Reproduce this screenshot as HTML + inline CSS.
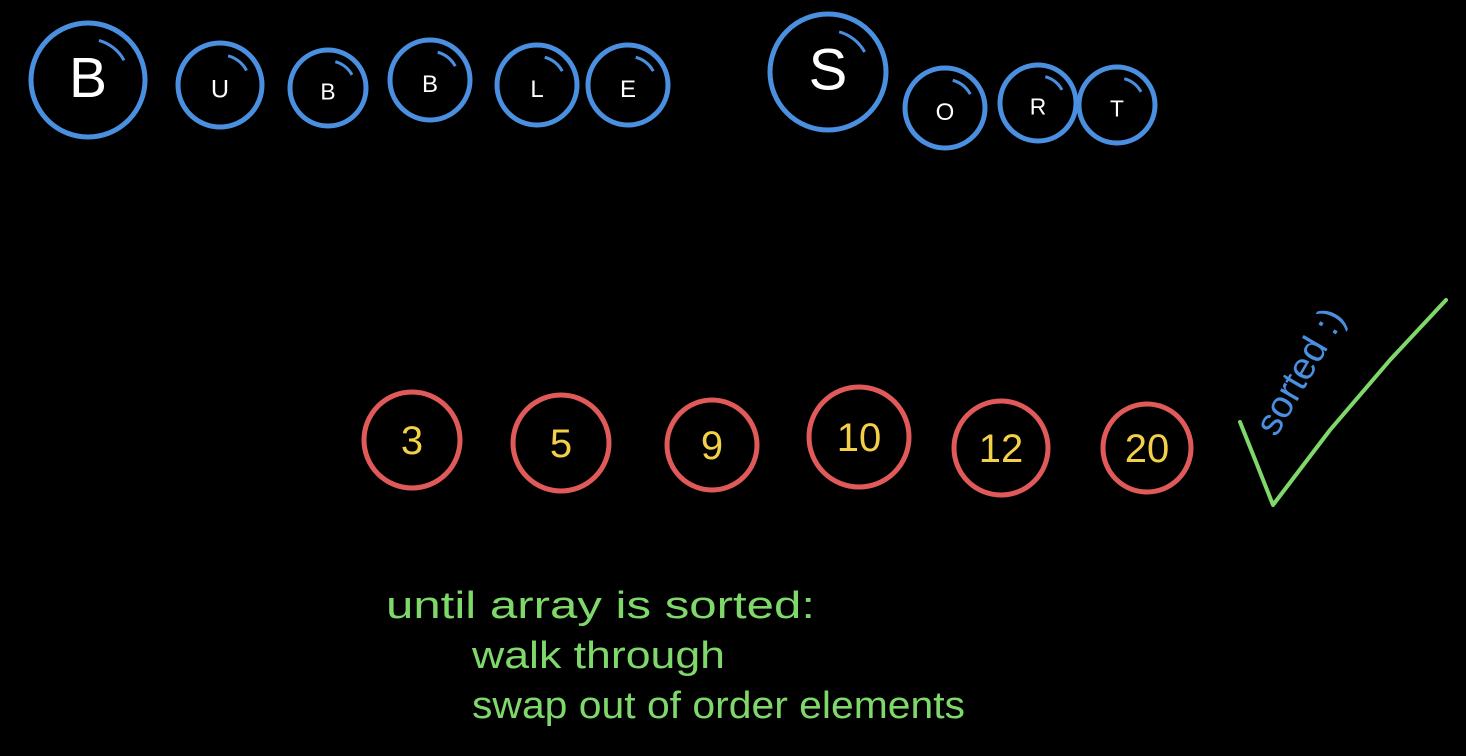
<!DOCTYPE html>
<html>
<head>
<meta charset="utf-8">
<style>
  html,body{margin:0;padding:0;background:#000;}
  svg{display:block;}
  .hand{font-family:"Liberation Sans",sans-serif;}
</style>
</head>
<body>
<svg id="stage" width="1466" height="756" viewBox="0 0 1466 756" xmlns="http://www.w3.org/2000/svg">
  <rect width="1466" height="756" fill="#000"/>
  <g id="title"></g>
  <g id="array"></g>
  <g>
    <polyline points="1240,422 1256,462 1273,505 1330,430 1390,360 1446,300" fill="none" stroke="#7fd86a" stroke-width="4" stroke-linecap="round" stroke-linejoin="round"/>
    <text class="hand" x="0" y="0" transform="translate(1276,438) rotate(-60)" font-size="38" fill="#4a8fe0">sorted :)</text>
  </g>
  <g class="hand" fill="#7fd86a" font-size="38">
    <text x="386" y="618" textLength="429" lengthAdjust="spacingAndGlyphs">until array is sorted:</text>
    <text x="472" y="668" textLength="253" lengthAdjust="spacingAndGlyphs">walk through</text>
    <text x="472" y="718" textLength="493" lengthAdjust="spacingAndGlyphs">swap out of order elements</text>
  </g>
</svg>
<script>
const titleLetters = ["B","U","B","B","L","E","S","O","R","T"];
const titleCx = [88,220,328,430,537,628,828,945,1038,1117];
const titleCy = [80,85,88,80,85,85,72,108,103,105];
const titleR = [57,42,38,40,40,40,58,40,38,38];
const values = [3,5,9,10,12,20];
const valueCx = [412,561,712,859,1001,1147];
const valueCy = [440,443,445,437,448,448];
const valueR = [48,48,45,50,47,44];

const NS="http://www.w3.org/2000/svg";
const tg=document.getElementById('title');
titleLetters.forEach((ch,i)=>{
  const g=document.createElementNS(NS,'g');
  
  
  const c=document.createElementNS(NS,'circle');
  c.setAttribute('cx',titleCx[i]);c.setAttribute('cy',titleCy[i]);c.setAttribute('r',titleR[i]);
  c.setAttribute('fill','none');c.setAttribute('stroke','#4a8fe0');c.setAttribute('stroke-width','5');
  g.appendChild(c);
  const a=document.createElementNS(NS,'path');
  const r=titleR[i]*0.72, cx=titleCx[i], cy=titleCy[i];
  a.setAttribute('d',`M${cx+r*Math.cos(-1.3)} ${cy+r*Math.sin(-1.3)} A${r} ${r} 0 0 1 ${cx+r*Math.cos(-0.5)} ${cy+r*Math.sin(-0.5)}`);
  a.setAttribute('fill','none');a.setAttribute('stroke','#4a8fe0');a.setAttribute('stroke-width','3');
  g.appendChild(a);
  const t=document.createElementNS(NS,'text');
  t.setAttribute('x',cx);t.setAttribute('y',cy+titleR[i]*0.3);
  t.setAttribute('text-anchor','middle');t.setAttribute('fill','#fff');
  t.setAttribute('font-family','Liberation Sans, sans-serif');
  t.setAttribute('font-size',titleR[i]*(titleR[i]>50?1.0:0.6));
  t.textContent=ch;
  g.appendChild(t);
  tg.appendChild(g);
});
const ag=document.getElementById('array');
values.forEach((v,i)=>{
  const g=document.createElementNS(NS,'g');
  
  
  const c=document.createElementNS(NS,'circle');
  c.setAttribute('cx',valueCx[i]);c.setAttribute('cy',valueCy[i]);c.setAttribute('r',valueR[i]);
  c.setAttribute('fill','none');c.setAttribute('stroke','#e05a5a');c.setAttribute('stroke-width','5');
  g.appendChild(c);
  const t=document.createElementNS(NS,'text');
  t.setAttribute('x',valueCx[i]);t.setAttribute('y',valueCy[i]+14);
  t.setAttribute('text-anchor','middle');t.setAttribute('fill','#f2d048');
  t.setAttribute('font-family','Liberation Sans, sans-serif');t.setAttribute('font-size','40');
  t.textContent=v;
  g.appendChild(t);
  ag.appendChild(g);
});
</script>
</body>
</html>
